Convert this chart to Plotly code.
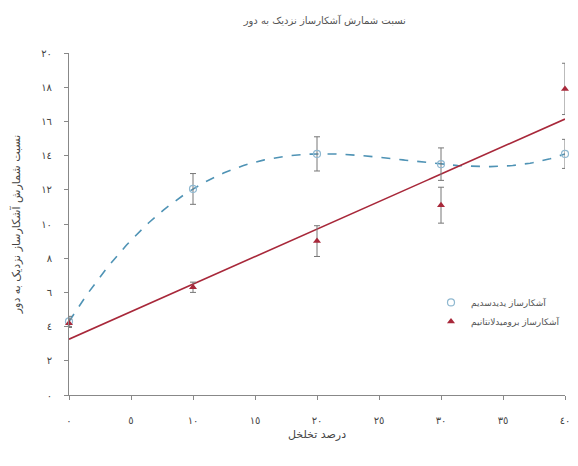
import numpy as np
import plotly.graph_objects as go

porosity = [0, 10, 20, 30, 40]
nai_ratio = [4.3, 12.05, 14.1, 13.5, 14.1]
nai_err = [0.3, 0.9, 1.0, 0.95, 0.85]
labr_ratio = [4.2, 6.3, 9.0, 11.1, 17.9]
labr_err = [0.25, 0.3, 0.9, 1.05, 1.5]

x_ticks = [0, 5, 10, 15, 20, 25, 30, 35, 40]
x_labels = ["٠", "٥", "١٠", "١٥", "٢٠", "٢٥", "٣٠", "٣٥", "٤٠"]
y_ticks = [0, 2, 4, 6, 8, 10, 12, 14, 16, 18, 20]
y_labels = ["٠", "٢", "٤", "٦", "٨", "١٠", "١٢", "١٤", "١٦", "١٨", "٢٠"]

title_text = "نسبت شمارش آشکارساز نزدیک به دور"
x_title = "درصد تخلخل"
name_nai = "آشکارساز یدیدسدیم"
name_labr = "آشکارساز برومیدلانتانیم"

blue = "#4f93b5"
red = "#a8283a"

# trend lines fitted to the data
xf = np.linspace(0, 40, 200)
nai_fit = np.polyval(np.polyfit(porosity, nai_ratio, 4), xf)
labr_fit = np.polyval(np.polyfit(porosity, labr_ratio, 1), xf)

fig = go.Figure()
fig.add_trace(go.Scatter(x=xf, y=nai_fit, mode="lines", showlegend=False,
                         line=dict(color=blue, width=1.6, dash="dash"), hoverinfo="skip"))
fig.add_trace(go.Scatter(x=xf, y=labr_fit, mode="lines", showlegend=False,
                         line=dict(color=red, width=1.6), hoverinfo="skip"))
fig.add_trace(go.Scatter(x=porosity, y=nai_ratio, mode="markers", name=name_nai,
                         marker=dict(symbol="circle-open", size=7, color="#8fb8d0", line=dict(width=1.2)),
                         error_y=dict(type="data", array=nai_err, color="#777777", thickness=1, width=3),
                         cliponaxis=False))
fig.add_trace(go.Scatter(x=porosity, y=labr_ratio, mode="markers", name=name_labr,
                         marker=dict(symbol="triangle-up", size=7, color=red),
                         error_y=dict(type="data", array=labr_err, color="#777777", thickness=1, width=3),
                         cliponaxis=False))

fig.update_layout(
    width=578, height=466,
    margin=dict(l=61, r=21, t=45, b=79, autoexpand=False),
    paper_bgcolor="white", plot_bgcolor="white",
    font=dict(family="DejaVu Sans", size=10, color="#444444"),
    title=dict(text=title_text, x=0.548, xanchor="center", y=0.974, yanchor="middle",
               font=dict(size=10, color="#555555")),
    legend=dict(x=1.0, y=0.313, xanchor="right", yanchor="top", bgcolor="rgba(0,0,0,0)",
                font=dict(size=9, color="#555555"), tracegroupgap=0, itemwidth=30),
    xaxis=dict(range=[0, 40], tickvals=x_ticks, ticktext=x_labels, showgrid=False, zeroline=False,
               showline=True, linecolor="#888888", linewidth=1, ticks="outside", ticklen=4,
               tickcolor="#888888", ticklabelstandoff=12,
               title=dict(text=x_title, standoff=5, font=dict(size=11, color="#444444"))),
    yaxis=dict(range=[0, 20], tickvals=y_ticks, ticktext=y_labels, showgrid=False, zeroline=False,
               showline=True, linecolor="#888888", linewidth=1, ticks="outside", ticklen=4,
               tickcolor="#888888", ticklabelstandoff=10,
               title=dict(text=title_text, standoff=18, font=dict(size=11, color="#444444"))),
)

fig.write_html("out.html")
